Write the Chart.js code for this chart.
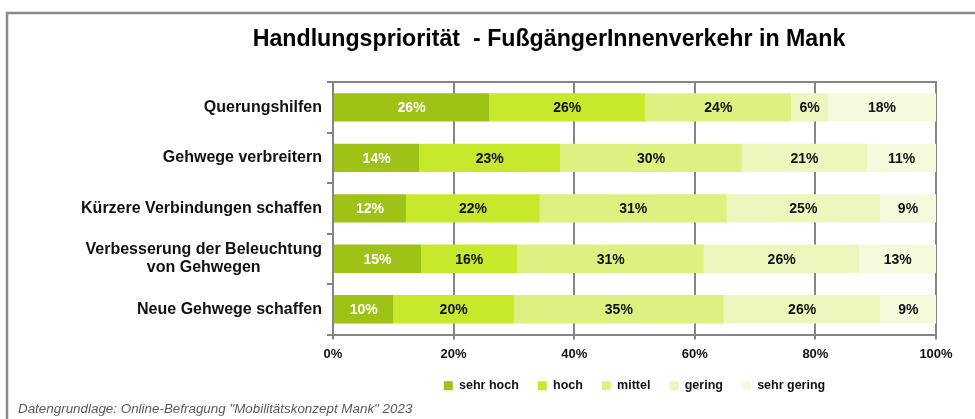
<!DOCTYPE html>
<html lang="de">
<head>
<meta charset="utf-8">
<title>Handlungspriorität - FußgängerInnenverkehr in Mank</title>
<script src="https://cdn.jsdelivr.net/npm/chart.js@4.4.1/dist/chart.umd.min.js"></script>
<style>
    html, body { margin: 0; padding: 0; background: #fff; }
    #wrap { position: relative; width: 975px; height: 419px; }
</style>
</head>
<body>
<div id="wrap"><canvas id="chart" width="975" height="419"></canvas></div>
<script>
const categories = [
    'Querungshilfen',
    'Gehwege verbreitern',
    'Kürzere Verbindungen schaffen',
    ['Verbesserung der Beleuchtung', 'von Gehwegen'],
    'Neue Gehwege schaffen'
];
const levels = ['sehr hoch', 'hoch', 'mittel', 'gering', 'sehr gering'];
// Werte aus den Balkenlängen geschätzt, Beschriftung gerundet
const sehrHoch = [25.9, 14.3, 12.1, 14.6, 10.0];
const hoch = [25.9, 23.4, 22.2, 16.0, 20.0];
const mittel = [24.2, 30.1, 31.0, 30.9, 34.8];
const gering = [6.1, 20.8, 25.4, 25.8, 26.0];
const sehrGering = [17.9, 11.4, 9.3, 12.7, 9.2];
const xTicks = [0, 20, 40, 60, 80, 100];

const colors = ['#9ec316', '#c6e92b', '#dcf180', '#ebf7bd', '#f5fadd'];
const seriesValues = [sehrHoch, hoch, mittel, gering, sehrGering];
const gridGray = '#858585';
const fontFamily = '"Liberation Sans", Arial, sans-serif';

document.addEventListener('DOMContentLoaded', function () {
    // Rahmen + Fußnote
    const framePlugin = {
        id: 'frame',
        beforeDraw(chart) {
            const ctx = chart.ctx;
            ctx.save();
            ctx.strokeStyle = '#8a8a8a';
            ctx.lineWidth = 2.5;
            ctx.beginPath();
            ctx.moveTo(7, 419);
            ctx.lineTo(7, 13);
            ctx.lineTo(975, 13);
            ctx.stroke();
            ctx.restore();
        },
        beforeDatasetsDraw(chart) {
            const { ctx, chartArea } = chart;
            ctx.save();
            ctx.strokeStyle = gridGray;
            ctx.lineWidth = 2;
            ctx.beginPath();
            ctx.moveTo(chartArea.left, chartArea.top);
            ctx.lineTo(chartArea.right + 1, chartArea.top);
            ctx.stroke();
            ctx.restore();
        },
        afterDraw(chart) {
            const ctx = chart.ctx;
            ctx.save();
            ctx.fillStyle = '#595959';
            ctx.font = 'italic 13.4px ' + fontFamily;
            ctx.textBaseline = 'middle';
            ctx.textAlign = 'left';
            ctx.fillText('Datengrundlage: Online-Befragung "Mobilitätskonzept Mank" 2023', 18, 409);
            ctx.restore();
        }
    };

    // Kategorienbeschriftung (mehrzeilig zentriert, Block rechtsbündig)
    const categoryLabels = {
        id: 'categoryLabels',
        afterDraw(chart) {
            const { ctx, chartArea } = chart;
            const yScale = chart.scales.y;
            ctx.save();
            ctx.font = 'bold 16px ' + fontFamily;
            ctx.fillStyle = '#111';
            ctx.textAlign = 'center';
            ctx.textBaseline = 'middle';
            const right = chartArea.left - 11;
            categories.forEach(function (label, i) {
                const lines = Array.isArray(label) ? label : [label];
                const widest = Math.max.apply(null, lines.map(l => ctx.measureText(l).width));
                const cx = right - widest / 2;
                const y = yScale.getPixelForValue(i);
                const lh = 17.5;
                lines.forEach(function (line, j) {
                    ctx.fillText(line, cx, y + (j - (lines.length - 1) / 2) * lh);
                });
            });
            ctx.restore();
        }
    };

    // Prozentwerte in den Balken
    const valueLabels = {
        id: 'valueLabels',
        afterDatasetsDraw(chart) {
            const ctx = chart.ctx;
            ctx.save();
            ctx.font = 'bold 14px ' + fontFamily;
            ctx.textAlign = 'center';
            ctx.textBaseline = 'middle';
            chart.data.datasets.forEach(function (ds, di) {
                const meta = chart.getDatasetMeta(di);
                ctx.fillStyle = di === 0 ? '#ffffff' : '#111111';
                meta.data.forEach(function (bar, i) {
                    const x = (bar.x + bar.base) / 2;
                    ctx.fillText(Math.round(ds.data[i]) + '%', x, bar.y + 1);
                });
            });
            ctx.restore();
        }
    };

    const ctx = document.getElementById('chart').getContext('2d');
    new Chart(ctx, {
        type: 'bar',
        data: {
            labels: categories,
            datasets: levels.map(function (name, i) {
                return {
                    label: name,
                    data: seriesValues[i],
                    backgroundColor: colors[i],
                    borderWidth: 0,
                    barPercentage: 0.56,
                    categoryPercentage: 1
                };
            })
        },
        options: {
            indexAxis: 'y',
            responsive: false,
            animation: false,
            devicePixelRatio: 1,
            layout: { padding: { left: 162, right: 39, top: 0, bottom: 17 } },
            scales: {
                x: {
                    stacked: true,
                    min: 0,
                    max: 100,
                    afterBuildTicks(scale) {
                        scale.ticks = xTicks.map(v => ({ value: v }));
                    },
                    afterFit(scale) { scale.height = 26; },
                    ticks: {
                        callback: v => v + '%',
                        font: { family: fontFamily, size: 13, weight: 'bold' },
                        color: '#111',
                        padding: 7,
                        maxRotation: 0
                    },
                    grid: { color: gridGray, lineWidth: 2, tickLength: 5 },
                    border: { color: gridGray, width: 2 }
                },
                y: {
                    stacked: true,
                    afterFit(scale) { scale.width = 171; },
                    ticks: { display: false },
                    grid: { drawOnChartArea: false, color: gridGray, lineWidth: 2, tickLength: 6 },
                    border: { color: gridGray, width: 2 }
                }
            },
            plugins: {
                title: {
                    display: true,
                    text: 'Handlungspriorität  - FußgängerInnenverkehr in Mank',
                    color: '#000',
                    font: { family: fontFamily, size: 23.2, weight: 'bold', lineHeight: 1.2 },
                    padding: { top: 26, bottom: 28.2 }
                },
                legend: {
                    position: 'bottom',
                    fullSize: false,
                    labels: {
                        boxWidth: 9,
                        boxHeight: 9,
                        padding: 19,
                        color: '#111',
                        font: { family: fontFamily, size: 12.5, weight: 'bold' }
                    }
                },
                tooltip: { enabled: false }
            }
        },
        plugins: [framePlugin, categoryLabels, valueLabels]
    });
});
</script>
</body>
</html>
